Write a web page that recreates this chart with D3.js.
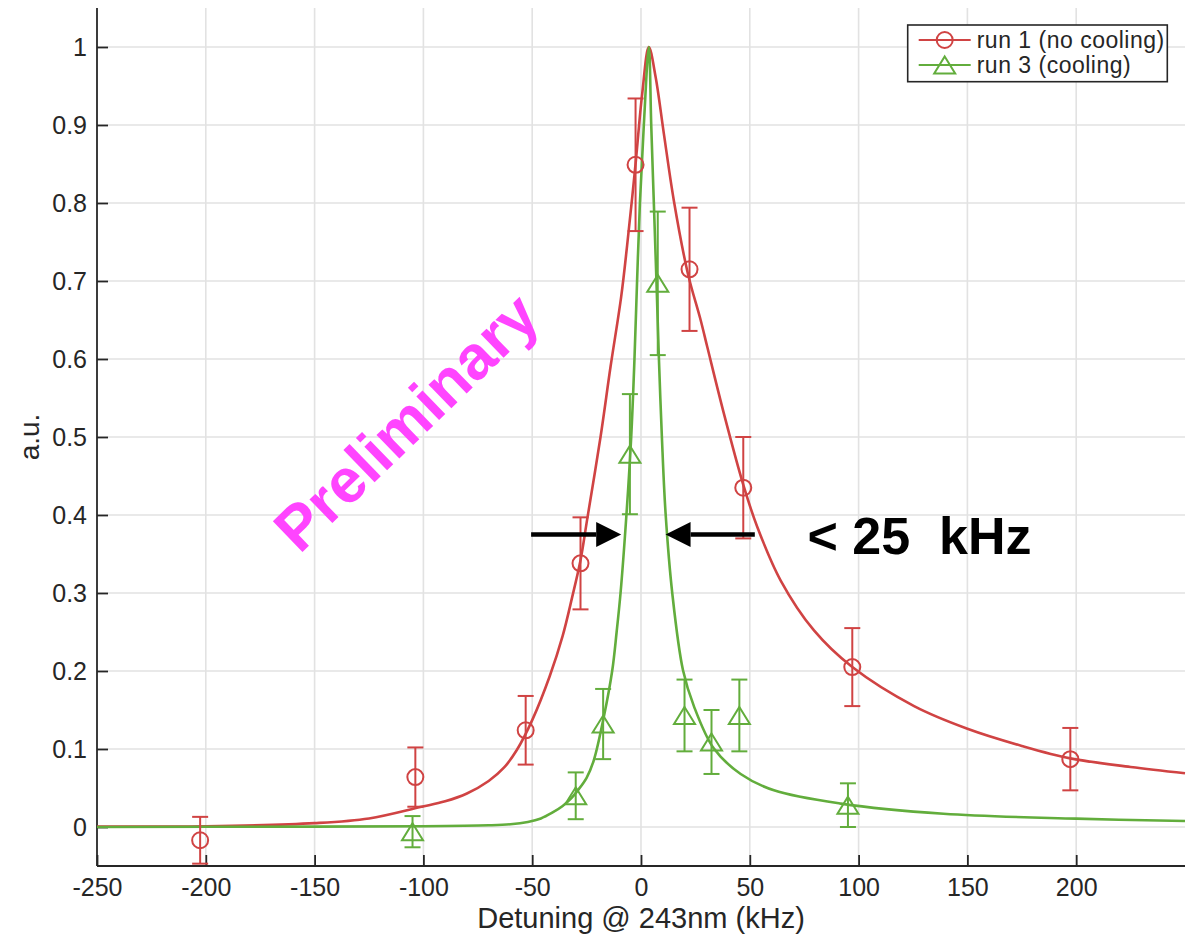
<!DOCTYPE html>
<meta charset="utf-8">
<script src="https://d3js.org/d3.v7.min.js"></script>
<style>
body { margin: 0; background: #ffffff; }
text { font-family: "Liberation Sans", Arial, Helvetica, sans-serif; fill: #262626; }
</style>
<body>
<div id="my_dataviz"></div>
<script>

// measured points, run 1 (no cooling)
var redX   = [-202.6, -103.7, -53, -27.8, -2.5, 22.3, 47, 97.1, 197.3];
var redY   = [-0.017, 0.064, 0.124, 0.338, 0.849, 0.715, 0.435, 0.205, 0.087];
var redErr = [0.030, 0.038, 0.044, 0.059, 0.085, 0.079, 0.065, 0.050, 0.040];

// measured points, run 3 (cooling)
var greenX   = [-105, -30, -17.4, -5.1, 7.7, 20, 32.4, 45.2, 95.1];
var greenY   = [-0.006, 0.040, 0.132, 0.478, 0.697, 0.143, 0.109, 0.143, 0.028];
var greenErr = [0.020, 0.030, 0.045, 0.077, 0.092, 0.046, 0.041, 0.046, 0.028];

// fitted curves
var redFitX = [-250, -200, -150, -125, -101.4, -90, -80, -70, -63, -57, -50, -42, -36, -31.6, -27.8, -24.7, -18.6, -14.0, -9.1, -6.4, -2.5, 0.55, 3.6, 6.7, 10.5, 15.1, 21.5, 27.4, 30.5, 38.1, 47.3, 53.4, 64.2, 79.5, 97.1, 125.5, 150, 175, 197.3, 225, 250];
var redFitY = [0.0005, 0.001, 0.005, 0.011, 0.0256, 0.033, 0.043, 0.059, 0.076, 0.099, 0.137, 0.193, 0.245, 0.295, 0.342, 0.395, 0.500, 0.590, 0.680, 0.745, 0.850, 0.940, 1.000, 0.962, 0.889, 0.803, 0.710, 0.650, 0.615, 0.530, 0.436, 0.385, 0.316, 0.252, 0.205, 0.155, 0.126, 0.104, 0.088, 0.077, 0.069];

var greenFitX = [-250, -150, -100, -70, -60, -52, -46, -41, -36, -32, -29.3, -25, -21.7, -17.1, -13.2, -11.2, -9.4, -6.7, -4.5, -3.0, -1.8, -0.5, 1.3, 3.6, 4.7, 5.9, 7.1, 8.2, 9.6, 11.3, 14.4, 19.3, 24.3, 33.5, 45.8, 61.1, 91.8, 139, 200, 250];
var greenFitY = [0, 0.0005, 0.001, 0.0022, 0.0035, 0.0065, 0.011, 0.018, 0.027, 0.037, 0.046, 0.063, 0.0855, 0.141, 0.201, 0.250, 0.300, 0.400, 0.500, 0.600, 0.700, 0.800, 0.900, 1.000, 0.900, 0.800, 0.700, 0.603, 0.500, 0.402, 0.299, 0.201, 0.155, 0.1005, 0.068, 0.047, 0.030, 0.017, 0.0107, 0.0077];

// ticks
var xTicks = [-250, -200, -150, -100, -50, 0, 50, 100, 150, 200];
var yTicks = [0, 0.1, 0.2, 0.3, 0.4, 0.5, 0.6, 0.7, 0.8, 0.9, 1];

// annotations (data units)
var arrowY = 0.375;
var arrowLeft = [-50.5, -9.1];   // from, tip
var arrowRight = [52.3, 11.3];   // from, tip
var widthLabel = {x: 76.5, y: 0.35, text: "< 25  kHz"};
var stamp = {x: -108.2, y: 0.52, text: "Preliminary"};

var seriesNames = ["run 1 (no cooling)", "run 3 (cooling)"];
var red = "#d04343", green = "#62ad3c", ink = "#262626";

var margin = {top: 8, right: 7, bottom: 72, left: 97},
    width = 1192 - margin.left - margin.right,
    height = 938 - margin.top - margin.bottom;

var svg = d3.select("#my_dataviz")
  .append("svg")
    .attr("width", width + margin.left + margin.right)
    .attr("height", height + margin.top + margin.bottom)
  .append("g")
    .attr("transform", "translate(" + margin.left + "," + margin.top + ")");

var x = d3.scaleLinear().domain([-250, 250]).range([0, width]);
var y = d3.scaleLinear().domain([-0.05, 1.05]).range([height, 0]);

// grid
svg.append("g").selectAll("line")
  .data(xTicks.slice(1))
  .enter().append("line")
    .attr("x1", d => x(d)).attr("x2", d => x(d))
    .attr("y1", 0).attr("y2", height)
    .attr("stroke", "#e2e2e2").attr("stroke-width", 1.6);
svg.append("g").selectAll("line")
  .data(yTicks)
  .enter().append("line")
    .attr("x1", 0).attr("x2", width)
    .attr("y1", d => y(d)).attr("y2", d => y(d))
    .attr("stroke", "#e2e2e2").attr("stroke-width", 1.6);

// axes
var xAxis = svg.append("g")
  .attr("transform", "translate(0," + height + ")")
  .call(d3.axisBottom(x).tickValues(xTicks).tickSize(-11).tickPadding(12).tickFormat(d => String(d)));
var yAxis = svg.append("g")
  .call(d3.axisLeft(y).tickValues(yTicks).tickSize(-11).tickPadding(10).tickFormat(d => String(d)));
[xAxis, yAxis].forEach(function(a) {
  a.select(".domain").attr("stroke", ink).attr("stroke-width", 1.8);
  a.selectAll(".tick line").attr("stroke", ink).attr("stroke-width", 1.8);
  a.selectAll(".tick text").attr("fill", ink)
    .style("font-size", "25px")
    .style("font-family", "'Liberation Sans', Arial, sans-serif");
});
xAxis.select(".domain").attr("d", "M0,0H" + width);
yAxis.select(".domain").attr("d", "M0," + height + "V0");

// axis labels
svg.append("text")
  .attr("x", width / 2)
  .attr("y", height + 62)
  .attr("text-anchor", "middle")
  .style("font-size", "29px")
  .text("Detuning @ 243nm (kHz)");
svg.append("text")
  .attr("transform", "rotate(-90)")
  .attr("x", -y(0.5))
  .attr("y", -58)
  .attr("text-anchor", "middle")
  .style("font-size", "28px")
  .text("a.u.");

// fits
var line = d3.line()
  .x(d => x(d[0]))
  .y(d => y(d[1]))
  .curve(d3.curveCatmullRom.alpha(0.5));

svg.append("path")
  .datum(d3.zip(redFitX, redFitY))
  .attr("fill", "none").attr("stroke", red).attr("stroke-width", 2.6)
  .attr("d", line);
svg.append("path")
  .datum(d3.zip(greenFitX, greenFitY))
  .attr("fill", "none").attr("stroke", green).attr("stroke-width", 2.6)
  .attr("d", line);

// error bars + markers
var triangle = "M0,-8.5L10.5,8.5L-10.5,8.5Z";

function errorSeries(xs, ys, es, color, marker) {
  var pts = d3.zip(xs, ys, es);
  var g = svg.append("g");
  var bar = g.selectAll("g.bar").data(pts).enter().append("g").attr("class", "bar");
  bar.append("line")
    .attr("x1", d => x(d[0])).attr("x2", d => x(d[0]))
    .attr("y1", d => y(d[1] - d[2])).attr("y2", d => y(d[1] + d[2]));
  bar.append("line")
    .attr("x1", d => x(d[0]) - 8).attr("x2", d => x(d[0]) + 8)
    .attr("y1", d => y(d[1] + d[2])).attr("y2", d => y(d[1] + d[2]));
  bar.append("line")
    .attr("x1", d => x(d[0]) - 8).attr("x2", d => x(d[0]) + 8)
    .attr("y1", d => y(d[1] - d[2])).attr("y2", d => y(d[1] - d[2]));
  bar.selectAll("line").attr("stroke", color).attr("stroke-width", 2);
  if (marker == "circle") {
    bar.append("circle")
      .attr("cx", d => x(d[0])).attr("cy", d => y(d[1])).attr("r", 8)
      .attr("fill", "none").attr("stroke", color).attr("stroke-width", 2);
  } else {
    bar.append("path")
      .attr("d", triangle)
      .attr("transform", d => "translate(" + x(d[0]) + "," + y(d[1]) + ")")
      .attr("fill", "none").attr("stroke", color).attr("stroke-width", 2);
  }
}
errorSeries(redX, redY, redErr, red, "circle");
errorSeries(greenX, greenY, greenErr, green, "triangle");

// width arrows
function arrow(from, tip) {
  var x0 = x(from), x1 = x(tip), yy = y(arrowY);
  var dir = x1 > x0 ? 1 : -1;
  var headLen = 25, headHalf = 12.5;
  svg.append("line")
    .attr("x1", x0).attr("x2", x1 - dir * headLen)
    .attr("y1", yy).attr("y2", yy)
    .attr("stroke", "#000").attr("stroke-width", 4.5);
  svg.append("path")
    .attr("d", "M" + x1 + "," + yy + "L" + (x1 - dir * headLen) + "," + (yy - headHalf) +
               "L" + (x1 - dir * headLen) + "," + (yy + headHalf) + "Z")
    .attr("fill", "#000");
}
arrow(arrowLeft[0], arrowLeft[1]);
arrow(arrowRight[0], arrowRight[1]);

svg.append("text")
  .attr("x", x(widthLabel.x)).attr("y", y(widthLabel.y))
  .style("font-size", "52px").style("font-weight", "bold")
  .style("fill", "#000").style("white-space", "pre")
  .text(widthLabel.text);

svg.append("text")
  .attr("transform", "translate(" + x(stamp.x) + "," + y(stamp.y) + ") rotate(-44)")
  .attr("text-anchor", "middle")
  .attr("dy", "0.36em")
  .style("font-size", "62px").style("font-weight", "bold")
  .style("fill", "#ff44ff")
  .text(stamp.text);

// legend
var lx = 907.7 - margin.left, ly = 25 - margin.top;
var legend = svg.append("g").attr("transform", "translate(" + lx + "," + ly + ")");
legend.append("rect")
  .attr("width", 259.6).attr("height", 56.7)
  .attr("fill", "#fff").attr("stroke", ink).attr("stroke-width", 1.6);
var rows = legend.selectAll("g.row")
  .data(seriesNames)
  .enter().append("g").attr("class", "row")
  .attr("transform", (d, i) => "translate(0," + (15 + i * 25) + ")");
rows.append("line")
  .attr("x1", 11).attr("x2", 63).attr("y1", 0).attr("y2", 0)
  .attr("stroke", (d, i) => i == 0 ? red : green).attr("stroke-width", 2);
rows.each(function(d, i) {
  var r = d3.select(this);
  if (i == 0) {
    r.append("circle").attr("cx", 37).attr("cy", 0).attr("r", 8)
      .attr("fill", "none").attr("stroke", red).attr("stroke-width", 2);
  } else {
    r.append("path").attr("d", triangle).attr("transform", "translate(37,0)")
      .attr("fill", "none").attr("stroke", green).attr("stroke-width", 2);
  }
});
rows.append("text")
  .attr("x", 69).attr("y", 0).attr("dy", "0.35em")
  .style("font-size", "23px").style("letter-spacing", "0.5px")
  .text(d => d);

</script>
</body>
